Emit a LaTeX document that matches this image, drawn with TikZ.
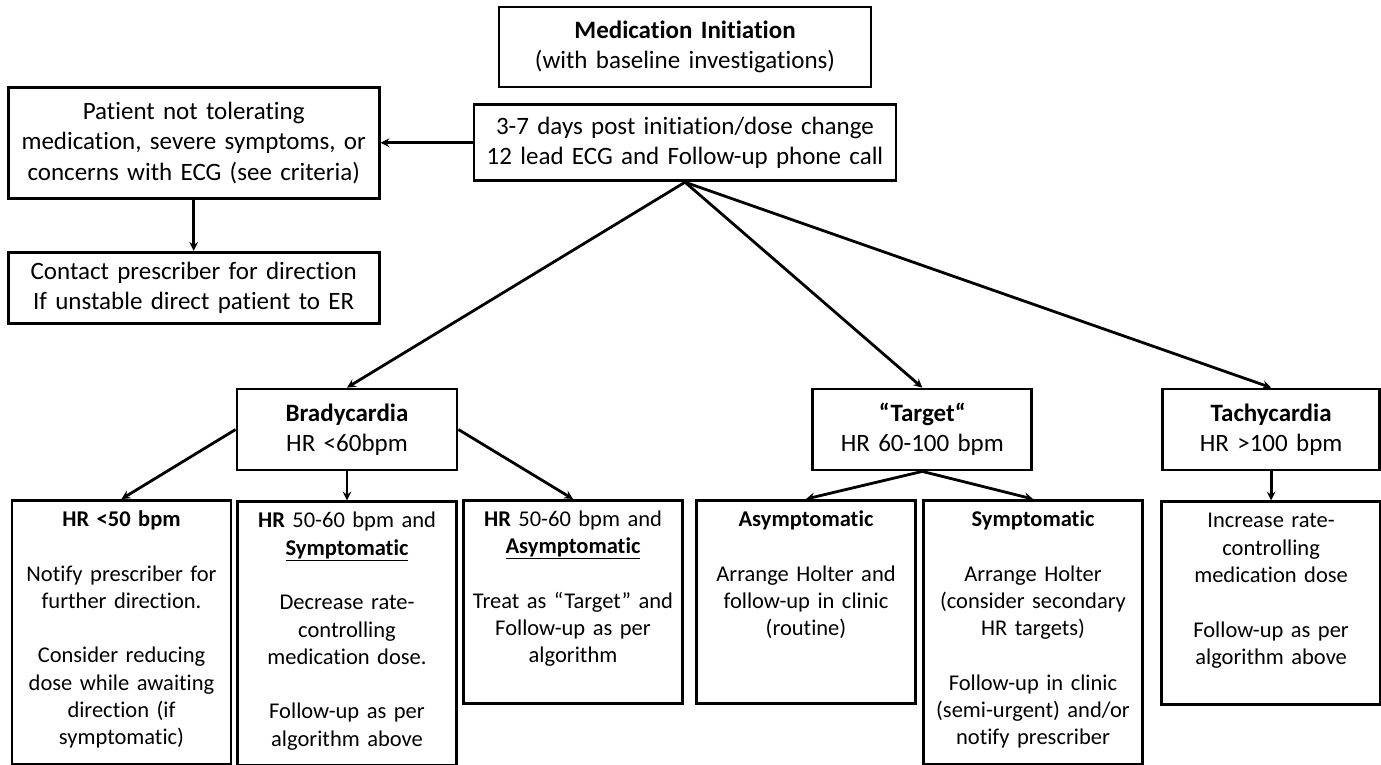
\documentclass[tikz,border=0pt]{standalone}
\usepackage{fontspec}
\setmainfont[Ligatures=NoCommon]{Carlito}
\usepackage{tikz}
\usetikzlibrary{arrows, positioning}
\tikzstyle{stage} = [rectangle, draw=black, line width=2.8pt, align=center, inner sep=3pt, font=\fontsize{25}{30.5}\selectfont]
\tikzstyle{action} = [rectangle, draw=black, line width=2.8pt, align=center, anchor=north, text width=208pt, minimum width=219pt, inner xsep=0pt, inner ysep=6pt, text height=20pt, font=\fontsize{22.5}{27.3}\selectfont]
\tikzstyle{short} = [text depth=171pt]
\tikzstyle{tall} = [text depth=232pt]
\tikzstyle{arrow} = [line width=2.8pt,->,>=stealth]

\begin{document}
\begin{tikzpicture}[x=1pt,y=-1pt]
	\useasboundingbox (0,0) rectangle (1381,765);
	\node (init) [stage, minimum width=372pt, minimum height=80pt, text width=365pt] at (685,47) {\textbf{Medication Initiation} \\ (with baseline investigations)};
	\node (followup) [stage, below=15pt of init, minimum width=422pt, minimum height=76pt, text width=415pt] {3-7 days post initiation/dose change \\ 12 lead ECG and Follow-up phone call};
	\node (nottol) [stage, left=92pt of followup, minimum width=371pt, minimum height=111pt, text width=365pt] {Patient not tolerating \\ medication, severe symptoms, or \\ concerns with ECG (see criteria)};
	\node (contact) [stage, below=51pt of nottol, minimum width=371pt, minimum height=71pt, text width=365pt] {Contact prescriber for direction \\ If unstable direct patient to ER};
	
	\node (brady) [stage, minimum width=220pt, minimum height=81pt, text width=212pt] at (347,429.5) {\textbf{Bradycardia} \\ HR <60bpm};
	\node (target) [stage, right=353pt of brady, minimum width=219pt, minimum height=81pt, text width=212pt] {\textbf{“Target“} \\ HR 60-100 bpm};
	\node (tachy) [stage, right=128pt of target, minimum width=217pt, minimum height=81pt, text width=210pt] {\textbf{Tachycardia} \\ HR >100 bpm};
	
	\node (hr50) [action, tall] at (121.5,499) {\textbf{HR <50 bpm} \\[27.3pt] Notify prescriber for \\ further direction. \\[27.3pt] Consider reducing \\ dose while awaiting \\ direction (if \\ symptomatic)};
	\node (symbrady) [action, tall, below=29pt of brady] {\textbf{HR} 50-60 bpm and \\ \underline{\textbf{Symptomatic}} \\[27.3pt] Decrease rate- \\ controlling \\ medication dose. \\[27.3pt] Follow-up as per \\ algorithm above};
	\node (asymbrady) [action, short] at (573,499) {\textbf{HR} 50-60 bpm and \\ \underline{\textbf{Asymptomatic}} \\[27.3pt] Treat as “Target” and \\ Follow-up as per \\ algorithm};
	\node (asym) [action, short] at (806,499) {\textbf{Asymptomatic} \\[27.3pt] Arrange Holter and \\ follow-up in clinic \\ (routine)};
	\node (sym) [action, tall] at (1033,499) {\textbf{Symptomatic} \\[27.3pt] Arrange Holter \\ (consider secondary \\ HR targets) \\[27.3pt] Follow-up in clinic \\ (semi-urgent) and/or \\ notify prescriber};
	\node (increase) [action, short, below=29pt of tachy] {Increase rate- \\ controlling \\ medication dose \\[27.3pt] Follow-up as per \\ algorithm above};
	
	\draw [arrow] (followup) -- (nottol);
	\draw [arrow] (nottol) -- (contact);
	
	\draw [arrow] (followup.south) -- (brady.north);
	\draw [arrow] (followup.south) -- (target.north);
	\draw [arrow] (followup.south) -- (tachy.north);
	
	\draw [arrow] (brady.west) -- (hr50.north);
	\draw [arrow] (brady.south) -- (symbrady.north);
	\draw [arrow] (brady.east) -- (asymbrady.north);
	
	\draw [arrow] (target.south) -- (asym.north);
	\draw [arrow] (target.south) -- (sym.north);
	\draw [arrow] (tachy.south) -- (increase.north);
	
\end{tikzpicture}
\end{document}
